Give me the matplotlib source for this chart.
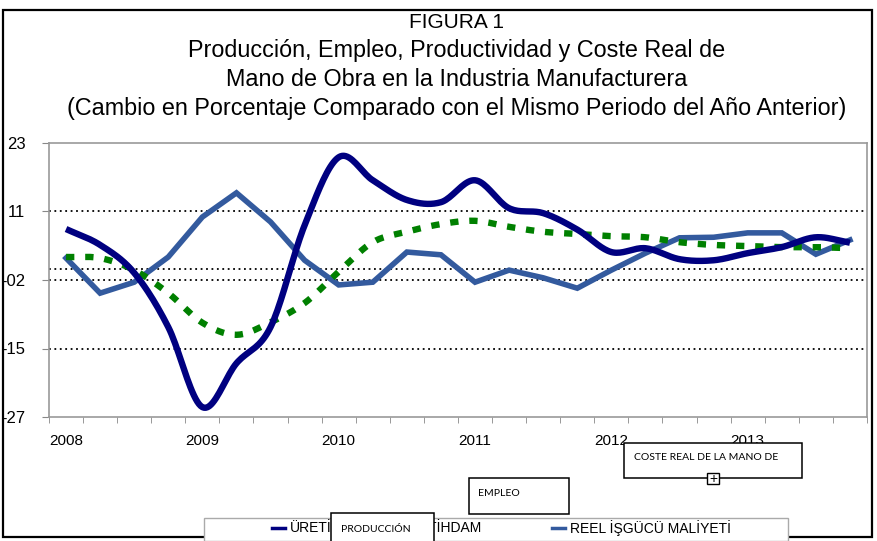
import numpy as np
import matplotlib
matplotlib.use("Agg")
import matplotlib.pyplot as plt
from matplotlib.patches import Rectangle
from matplotlib.lines import Line2D

plt.rcParams['font.family'] = ['Liberation Sans', 'DejaVu Sans']

# quarterly data 2008Q1 - 2013Q4
years = ['2008', '2009', '2010', '2011', '2012', '2013']
produccion = [7.3, 4.4, -0.7, -10.6, -25.2, -17.2, -10.6, 8.0, 20.4, 16.2, 12.6, 12.2,
              16.2, 11.1, 10.2, 7.2, 3.1, 3.8, 1.8, 1.6, 2.9, 4.0, 5.8, 4.8]
empleo = [2.2, 2.0, -0.2, -4.4, -9.8, -12.0, -9.7, -6.2, -0.5, 4.9, 6.8, 8.2,
          8.8, 7.7, 6.8, 6.4, 6.0, 5.8, 4.9, 4.4, 4.2, 4.0, 4.0, 3.8]
coste = [2.0, -4.4, -2.4, 2.2, 9.5, 13.9, 8.6, 1.6, -2.9, -2.4, 3.1, 2.6,
         -2.4, -0.2, -1.6, -3.5, -0.2, 2.9, 5.7, 5.8, 6.6, 6.6, 2.7, 5.3]
ytick_vals = [23, 10.5, -2, -14.5, -27]
ytick_labels = ['23', '11', '-02', '-15', '-27']
grid_vals = [10.5, 0, -2, -14.5]


def smooth(y, n=20):
    # catmull-rom, like the smoothed lines of a spreadsheet chart
    y = np.asarray(y, dtype=float)
    x = np.arange(len(y), dtype=float)
    px = np.concatenate([[2 * x[0] - x[1]], x, [2 * x[-1] - x[-2]]])
    py = np.concatenate([[2 * y[0] - y[1]], y, [2 * y[-1] - y[-2]]])
    xs, ys = [], []
    t = np.linspace(0, 1, n, endpoint=False)
    for i in range(1, len(px) - 2):
        for p, out in ((px, xs), (py, ys)):
            p0, p1, p2, p3 = p[i - 1], p[i], p[i + 1], p[i + 2]
            out.append(0.5 * (2 * p1 + (-p0 + p2) * t + (2 * p0 - 5 * p1 + 4 * p2 - p3) * t ** 2
                              + (-p0 + 3 * p1 - 3 * p2 + p3) * t ** 3))
    xs.append([x[-1]])
    ys.append([y[-1]])
    return np.concatenate(xs), np.concatenate(ys)


fig = plt.figure(figsize=(8.78, 5.41), dpi=100)
ax = fig.add_axes([49 / 878, 1 - 417 / 541, (867 - 49) / 878, (417 - 143) / 541])

for g in grid_vals:
    ax.axhline(g, color='black', linestyle=(0, (1, 2)), linewidth=1.3, zorder=1)

x = np.arange(len(produccion))
sx, sy = smooth(produccion)
ax.plot(sx, sy, color='#000080', linewidth=4.6, solid_capstyle='butt', zorder=4)
ex, ey = smooth(empleo)
ax.plot(ex, ey, color='#008000', linewidth=4.6, linestyle=(0, (1.3, 1.7)),
        dash_capstyle='butt', zorder=3)
ax.plot(x, coste, color='#335A9E', linewidth=4.0, solid_joinstyle='miter', zorder=2)

ax.set_xlim(-0.5, 23.5)
ax.set_ylim(-27, 23)
ax.set_yticks(ytick_vals)
ax.set_yticklabels(ytick_labels, fontsize=12)
ax.set_xticks(np.arange(0, 24, 4))
ax.set_xticklabels(years, fontsize=11)
ax.set_xticks(np.arange(-0.5, 24, 1), minor=True)
ax.tick_params(axis='x', which='major', length=0, pad=12)
ax.tick_params(axis='x', which='minor', length=4, color='#888888')
ax.tick_params(axis='y', length=5, pad=12, color='#888888')
for s in ax.spines.values():
    s.set_color('#999999')
    s.set_linewidth(1.2)

# title
title_lines = ['FIGURA 1',
               'Producción, Empleo, Productividad y Coste Real de',
               'Mano de Obra en la Industria Manufacturera',
               '(Cambio en Porcentaje Comparado con el Mismo Periodo del Año Anterior)']
title_sizes = [15, 16.8, 16.8, 16.8]
for i, t in enumerate(title_lines):
    fig.text(457 / 878, 1 - (22 + i * 29) / 541, t, ha='center', va='center',
             fontsize=title_sizes[i])


def px(xp, yp):
    return xp / 878, 1 - yp / 541


# outer border
fig.add_artist(Rectangle(px(3, 537), 869 / 878, 527 / 541, transform=fig.transFigure,
                         fill=False, edgecolor='black', linewidth=1.6, zorder=1))

# legend (partly hidden by the text boxes)
fig.add_artist(Rectangle(px(204, 541), 584 / 878, 23 / 541, transform=fig.transFigure,
                         facecolor='white', edgecolor='#aaaaaa', linewidth=1, zorder=2))
legend_items = [(272, 'ÜRETİM', '#000080'), (398, 'İSTİHDAM', '#008000'),
                (552, 'REEL İŞGÜCÜ MALİYETİ', '#335A9E')]
for xl, lab, col in legend_items:
    x0, y0 = px(xl, 528)
    x1, _ = px(xl + 13, 528)
    fig.add_artist(Line2D([x0, x1], [y0, y0], transform=fig.transFigure, color=col,
                          linewidth=2.5, zorder=3))
    fig.text(*px(xl + 18, 528), lab, ha='left', va='center', fontsize=10, zorder=3)

# overlapping text boxes
boxes = [(331, 513, 103, 40, 'PRODUCCIÓN', 341, 530),
         (469, 478, 100, 36, 'EMPLEO', 478, 494),
         (624, 443, 178, 35, 'COSTE REAL DE LA MANO DE', 634, 458)]
for bx, by, bw, bh, lab, tx, ty in boxes:
    fig.add_artist(Rectangle(px(bx, by + bh), bw / 878, bh / 541, transform=fig.transFigure,
                             facecolor='white', edgecolor='black', linewidth=1.1, zorder=5))
    fig.text(*px(tx, ty), lab, ha='left', va='center', fontsize=7.5,
             family=['Lato', 'DejaVu Sans'], zorder=6)
fig.add_artist(Rectangle(px(707, 484), 12 / 878, 11 / 541, transform=fig.transFigure,
                         facecolor='white', edgecolor='black', linewidth=1, zorder=7))
fig.text(*px(713, 478.5), '+', ha='center', va='center', fontsize=10, zorder=8)

fig.savefig('out.png', dpi=100)
